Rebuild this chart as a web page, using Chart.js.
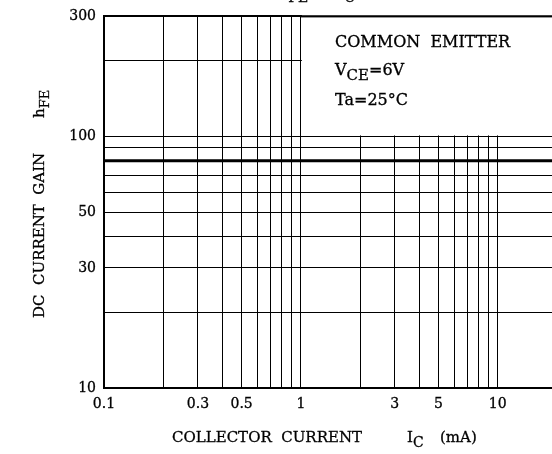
<!DOCTYPE html>
<html><head><meta charset="utf-8">
<script src="https://cdn.jsdelivr.net/npm/chart.js@4/dist/chart.umd.min.js"></script>
<style>
html,body{margin:0;padding:0;overflow:hidden;background:#fff;width:552px;height:454px}
#wrap{position:absolute;left:0;top:0;width:600px;height:454px}
canvas{display:block}
</style>
</head><body><div id="wrap"><canvas id="c" width="600" height="454" style="width:600px;height:454px"></canvas></div>
<script>
// ---- data ----
const currentGrid = [0.1,0.2,0.3,0.4,0.5,0.6,0.7,0.8,0.9,1,2,3,4,5,6,7,8,9,10,20];
const currentLabels = [0.1,0.3,0.5,1,3,5,10];
const gainGrid = [10,20,30,40,50,60,70,80,90,100,200,300];
const gainLabels = [10,30,50,100,300];
const collectorCurrent = [0.1, 20];   // mA
const dcGain = [80, 80];               // hFE
const boxCurrentFrom = 1, boxGainFrom = 100;

const SERIF = '"DejaVu Serif", serif';

function drawSub(ctx, parts, x, y){
  for (const [t, size, dy] of parts){
    ctx.font = size + 'px ' + SERIF;
    ctx.fillText(t, x, y + dy);
    ctx.lineWidth = 0.3;
    ctx.strokeText(t, x, y + dy);
    x += ctx.measureText(t).width;
  }
  return x;
}

const annot = {
  id: 'annot',
  beforeDatasetsDraw(chart){
    const {ctx, chartArea: a, scales: {x, y}} = chart;
    const x1 = x.getPixelForValue(boxCurrentFrom);
    const y100 = y.getPixelForValue(boxGainFrom);
    ctx.save();
    ctx.fillStyle = '#fff';
    ctx.fillRect(x1 + 1, a.top - 1, a.right - x1 + 10, y100 - a.top);
    ctx.fillStyle = '#000';
    ctx.fillRect(x1, a.top - 1, a.right - x1 + 10, 2);
    ctx.restore();
  },
  afterDraw(chart){
    const {ctx} = chart;
    ctx.save();
    ctx.fillStyle = '#000';
    ctx.strokeStyle = '#000';
    ctx.textBaseline = 'alphabetic';
    ctx.textAlign = 'left';
    // box text
    drawSub(ctx, [['COMMON  EMITTER', 16, 0]], 335, 46.5);
    drawSub(ctx, [['V', 16, 0], ['CE', 15, 5], ['=6V', 16, 0]], 335, 75);
    drawSub(ctx, [['Ta=25°C', 16, 0]], 335, 105);
    // cut-off title
    drawSub(ctx, [['h', 16, 0], ['FE', 14, 6]], 278, -4);
    drawSub(ctx, [['I', 16, 0], ['C', 14, 6]], 338, -4);
    // x title
    drawSub(ctx, [['COLLECTOR  CURRENT', 15, 0]], 172, 442);
    drawSub(ctx, [['I', 15, 0], ['C', 14, 5]], 407, 442);
    drawSub(ctx, [['(mA)', 15, 0]], 440, 442);
    // y title
    ctx.translate(44, 318);
    ctx.rotate(-Math.PI/2);
    drawSub(ctx, [['DC  CURRENT  GAIN', 15, 0]], 0, 0);
    drawSub(ctx, [['h', 15, 0], ['FE', 13, 5]], 200, 0);
    ctx.restore();
  }
};

new Chart(document.getElementById('c'), {
  type: 'line',
  data: {
    datasets: [{
      data: collectorCurrent.map((c, i) => ({x: c, y: dcGain[i]})),
      borderColor: '#000',
      borderWidth: 3,
      pointRadius: 0,
      fill: false,
      tension: 0
    }]
  },
  options: {
    responsive: false,
    animation: false,
    devicePixelRatio: 1,
    layout: {padding: {left: 0, right: 43, top: 13, bottom: 0}},
    plugins: {legend: {display: false}, tooltip: {enabled: false}, title: {display: false}},
    scales: {
      x: {
        type: 'logarithmic', min: 0.1, max: 20,
        afterBuildTicks: s => { s.ticks = currentGrid.map(v => ({value: v})); },
        afterFit: s => { s.height = 66; },
        ticks: {
          autoSkip: false, maxRotation: 0, padding: 8, color: '#000',
          font: {family: SERIF, size: 14},
          textStrokeColor: '#000', textStrokeWidth: 0.3,
          callback: v => currentLabels.includes(v) ? String(v) : ''
        },
        grid: {color: '#000', lineWidth: 1, drawTicks: false},
        border: {color: '#000', width: 2}
      },
      y: {
        type: 'logarithmic', min: 10, max: 300,
        afterBuildTicks: s => { s.ticks = gainGrid.map(v => ({value: v})); },
        afterFit: s => { s.width = 104; },
        ticks: {
          autoSkip: false, padding: 8, color: '#000',
          font: {family: SERIF, size: 14},
          textStrokeColor: '#000', textStrokeWidth: 0.3,
          callback: v => gainLabels.includes(v) ? String(v) : ''
        },
        grid: {color: '#000', lineWidth: c => (c.tick && c.tick.value === 300) ? 2 : 1, drawTicks: false},
        border: {color: '#000', width: 2}
      }
    }
  },
  plugins: [annot]
});
</script>
</body></html>
